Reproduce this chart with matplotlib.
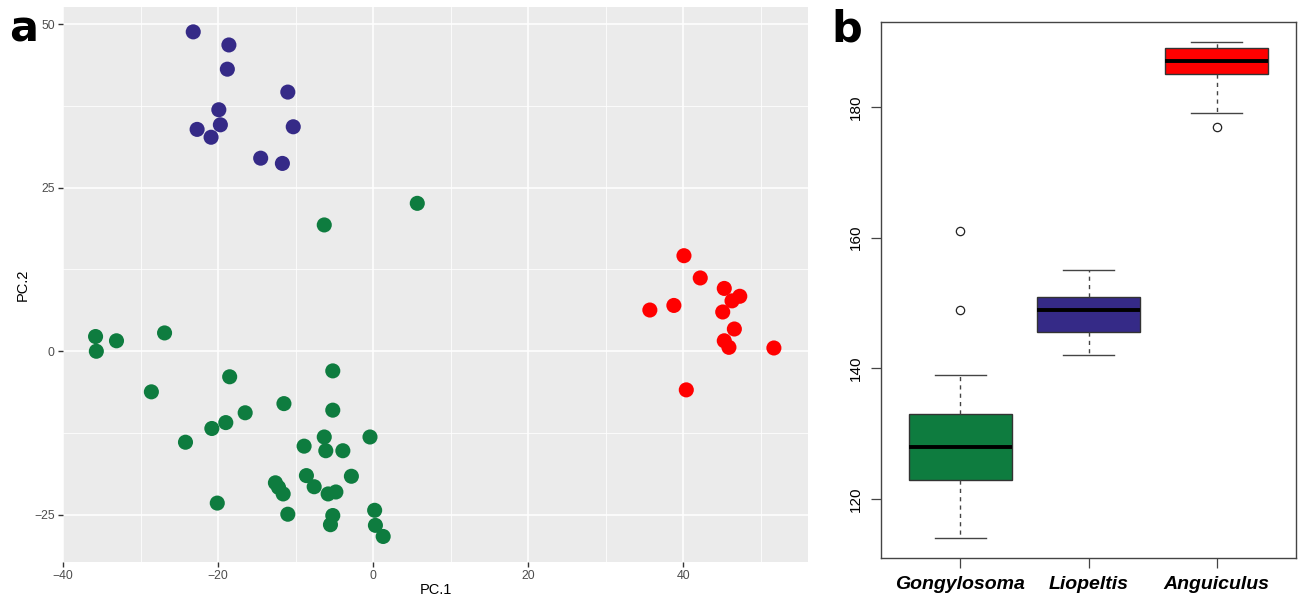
import matplotlib
matplotlib.use("Agg")
import matplotlib.pyplot as plt
import numpy as np

plt.rcParams['font.family'] = ['Liberation Sans', 'DejaVu Sans']

# ---- panel a: PCA scores ----
liopeltis_pc1 = [-23.2, -18.6, -18.8, -11.0, -19.9, -19.7, -22.7, -20.9, -10.3, -14.5, -11.7]
liopeltis_pc2 = [48.8, 46.8, 43.1, 39.6, 36.9, 34.6, 33.9, 32.7, 34.3, 29.5, 28.7]

gongylosoma_pc1 = [-6.3, 5.7, -35.8, -35.7, -33.1, -26.9, -28.6, -18.5, -24.2, -20.8,
                   -19.0, -16.5, -11.5, -5.2, -5.2, -6.3, -8.9, -6.1, -3.9, -0.4,
                   -8.6, -2.8, -12.6, -12.2, -11.6, -7.6, -5.8, -4.8, -20.1, -11.0,
                   -5.2, -5.5, 0.2, 0.3, 1.3]
gongylosoma_pc2 = [19.3, 22.6, 2.25, 0.0, 1.6, 2.8, -6.2, -3.9, -13.9, -11.8,
                   -10.9, -9.4, -8.0, -3.0, -9.0, -13.1, -14.5, -15.2, -15.2, -13.1,
                   -19.0, -19.1, -20.1, -20.8, -21.8, -20.7, -21.8, -21.5, -23.2, -24.9,
                   -25.1, -26.5, -24.3, -26.6, -28.3]

anguiculus_pc1 = [40.1, 42.2, 45.3, 47.3, 46.3, 38.8, 35.7, 45.1, 46.6, 45.3, 45.9, 51.7, 40.4]
anguiculus_pc2 = [14.6, 11.2, 9.6, 8.4, 7.7, 7.0, 6.3, 6.0, 3.4, 1.6, 0.6, 0.5, -5.9]

# ---- panel b: boxplot stats ----
genera = ['Gongylosoma', 'Liopeltis', 'Anguiculus']
whis_lo = [114, 142, 179]
q1 = [123, 145.5, 185]
median = [128, 149, 187]
q3 = [133, 151, 189]
whis_hi = [139, 155, 190]
outliers = [[149, 161], [], [177]]

GREEN = '#0E7C3F'
BLUE = '#352A87'
RED = '#FF0000'
colors = [GREEN, BLUE, RED]

fig = plt.figure(figsize=(13.04, 5.97), dpi=100)

# ggplot-like scatter
ax = fig.add_axes([63 / 1304, 35 / 597, 745 / 1304, 555 / 597])
ax.set_facecolor('#EBEBEB')
for s in ax.spines.values():
    s.set_visible(False)
ax.set_xlim(-40, 56.1)
ax.set_ylim(-32.2, 52.6)
ax.set_xticks([-40, -20, 0, 20, 40])
ax.set_yticks([-25, 0, 25, 50])
ax.set_xticks([-30, -10, 10, 30, 50], minor=True)
ax.set_yticks([-12.5, 12.5, 37.5], minor=True)
ax.grid(which='major', color='white', linewidth=1.1)
ax.grid(which='minor', color='white', linewidth=0.55)
ax.set_axisbelow(True)
ax.tick_params(which='major', length=3.5, width=1.0, color='#333333',
               labelcolor='#4D4D4D', labelsize=8.8, pad=2.5)
ax.tick_params(which='minor', length=0)
ax.set_xticklabels(['\u221240', '\u221220', '0', '20', '40'])
ax.set_yticklabels(['\u221225', '0', '25', '50'])
ax.set_xlabel('PC.1', fontsize=10.5, color='black', va='center')
ax.xaxis.set_label_coords(0.5, -0.051)
ax.set_ylabel('PC.2', fontsize=10.5, color='black', labelpad=3)

for xs, ys, c in [(gongylosoma_pc1, gongylosoma_pc2, GREEN),
                  (liopeltis_pc1, liopeltis_pc2, BLUE),
                  (anguiculus_pc1, anguiculus_pc2, RED)]:
    ax.scatter(xs, ys, s=118, color=c, edgecolors='none', zorder=3)

fig.text(9 / 1304, 1 - 42 / 597, 'a', fontsize=31, fontweight='black',
         family='DejaVu Sans', ha='left', va='baseline')

# base-R-like boxplot
bx = fig.add_axes([881 / 1304, 38.7 / 597, 415 / 1304, 536.6 / 597])
stats = []
for i, g in enumerate(genera):
    stats.append(dict(label=g, whislo=whis_lo[i], q1=q1[i], med=median[i],
                      q3=q3[i], whishi=whis_hi[i], fliers=outliers[i]))
bp = bx.bxp(stats, positions=[1, 2, 3], widths=0.8, capwidths=0.4,
            patch_artist=True, showfliers=True,
            boxprops=dict(edgecolor='#333333', linewidth=1.0),
            whiskerprops=dict(color='#444444', linewidth=1.0, linestyle=(0, (3, 3))),
            capprops=dict(color='#444444', linewidth=1.0),
            medianprops=dict(color='black', linewidth=2.8),
            flierprops=dict(marker='o', markersize=6, markerfacecolor='none',
                            markeredgecolor='#222222', markeredgewidth=0.9))
for patch, c in zip(bp['boxes'], colors):
    patch.set_facecolor(c)

bx.set_xlim(0.38, 3.62)
bx.set_ylim(110.96, 193.04)
bx.set_yticks([120, 140, 160, 180])
bx.set_yticklabels(['120', '140', '160', '180'], rotation=90, va='center')
bx.set_xticks([1, 2, 3])
bx.set_xticklabels(genera, fontsize=14, fontweight='bold', fontstyle='italic')
bx.tick_params(axis='y', length=7, width=0.9, color='#444444', labelsize=11, pad=6)
bx.tick_params(axis='x', length=7, width=0.9, color='#444444', pad=6)
for s in bx.spines.values():
    s.set_color('#444444')
    s.set_linewidth(1.0)

fig.text(831 / 1304, 1 - 41 / 597, 'b', fontsize=31, fontweight='black',
         family='DejaVu Sans', ha='left', va='baseline')

fig.savefig('out.png', dpi=100)
